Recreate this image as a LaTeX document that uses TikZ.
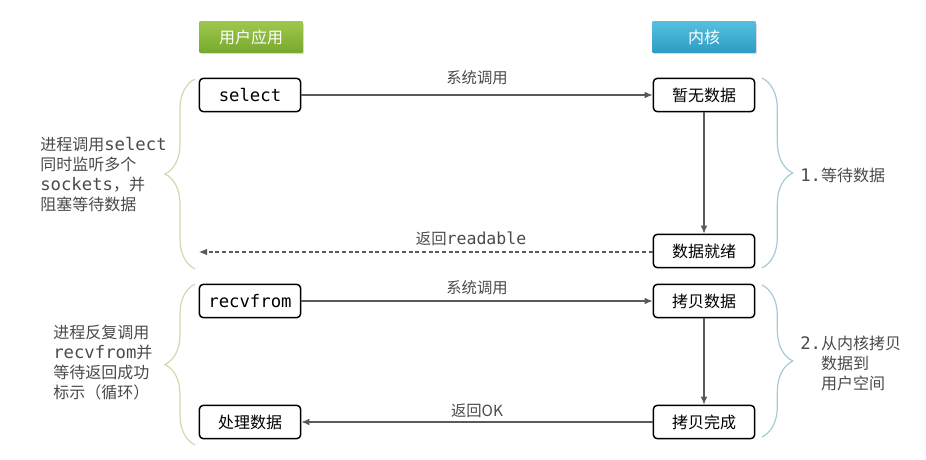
\documentclass[tikz,border=0pt]{standalone}
\usepackage{fontspec}
\setmainfont{Noto Sans CJK SC}
\setmonofont[Scale=1.08]{DejaVu Sans Mono}
\usepackage{xcolor}
\usepackage{tikz}
\usetikzlibrary{arrows.meta,positioning,shadows,decorations.pathreplacing}

\definecolor{notegray}{HTML}{4A4A4A}
\definecolor{linegray}{HTML}{5A5A5A}
\definecolor{usergreenA}{HTML}{9CC84C}
\definecolor{usergreenB}{HTML}{78A82E}
\definecolor{kernblueA}{HTML}{55C0DE}
\definecolor{kernblueB}{HTML}{2E9CC4}
\definecolor{bracecream}{HTML}{D6D6AE}
\definecolor{braceblue}{HTML}{A6CBD8}

\tikzset{
  header/.style={minimum width=77pt, minimum height=23pt, inner sep=0pt, text=white,
    font=\fontsize{12}{14}\selectfont,
    drop shadow={opacity=0.3,shadow xshift=1pt,shadow yshift=-1.5pt}},
  stepbox/.style={draw=black, line width=1.1pt, rounded corners=3pt, fill=white,
    minimum width=76pt, minimum height=25pt, inner sep=0pt, font=\fontsize{12}{14}\selectfont},
  call/.style={draw=linegray, line width=0.8pt, -{Latex[length=6pt,width=5pt]}},
  note/.style={align=left, inner sep=0pt, text=notegray, font=\fontsize{12}{15}\selectfont},
  lbl/.style={text=notegray, inner sep=0pt, font=\fontsize{11.5}{14}\selectfont},
  bracel/.style={draw=bracecream, line width=0.9pt, decorate, decoration={brace, amplitude=22.5pt}},
  bracer/.style={draw=braceblue, line width=0.9pt, decorate, decoration={brace, amplitude=23pt}},
}

\begin{document}
\begin{tikzpicture}[x=0.75pt,y=-0.75pt]
\useasboundingbox (0,0) rectangle (926,460);
% Headers
\node[header, top color=usergreenA, bottom color=usergreenB] (usr) at (251,37) {用户应用};
\node[header, top color=kernblueA, bottom color=kernblueB] (kern) at (704,37) {内核};
% Phase 1: wait for data
\node[stepbox] (sel) at (250,95) {\texttt{select}};
\node[stepbox] (nodata) at (704,95) {暂无数据};
\node[stepbox] (ready) at (704,251) {数据就绪};
\coordinate (rdEnd) at (199,252);
\draw[call] (sel) -- (nodata) node[lbl, midway, above=7pt] {系统调用};
\draw[call] (nodata) -- (ready);
\draw[call, dash pattern=on 3pt off 2pt] (ready.west |- rdEnd) -- (rdEnd)
  node[lbl, pos=0.4, above=4pt] {返回\texttt{readable}};
% Phase 2: copy data
\node[stepbox] (recv) at (250,301) {\texttt{recvfrom}};
\node[stepbox] (copy) at (704,301) {拷贝数据};
\node[stepbox] (done) at (704,422) {拷贝完成};
\node[stepbox] (proc) at (250,422) {处理数据};
\draw[call] (recv) -- (copy) node[lbl, midway, above=4pt] {系统调用};
\draw[call] (copy) -- (done);
\draw[call] (done) -- (proc) node[lbl, midway, above=3pt] {返回OK};
% Braces
\draw[bracel] (195,269) -- (195,79);
\draw[bracel] (195,445) -- (195,284);
\draw[bracer] (762,78) -- (762,268);
\draw[bracer] (762,285) -- (762,437);
% Notes
\node[note, anchor=west] (noteA) at (40,175)
  {进程调用\texttt{select}\\同时监听多个\\\texttt{sockets}，并\\阻塞等待数据};
\node[note, anchor=west] (noteB) at (53,363)
  {进程反复调用\\\texttt{recvfrom}并\\等待返回成功\\标示（循环）};
\node[note, anchor=west] (stepA) at (800,175) {\texttt{1.}等待数据};
\node[note, anchor=west] (stepB) at (800,363)
  {\texttt{2.}从内核拷贝\\\hphantom{\texttt{2.}}数据到\\\hphantom{\texttt{2.}}用户空间};
\end{tikzpicture}
\end{document}
